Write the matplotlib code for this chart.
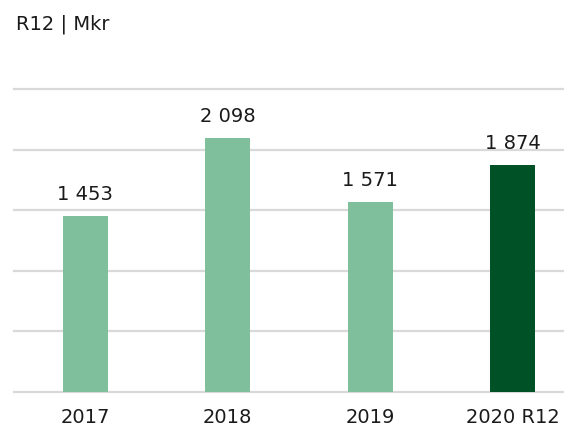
import matplotlib
matplotlib.use("Agg")
import matplotlib.pyplot as plt

categories = ["2017", "2018", "2019", "2020 R12"]
values = [1453, 2098, 1571, 1874]
labels = ["1 453", "2 098", "1 571", "1 874"]
colors = ["#80BF9B", "#80BF9B", "#80BF9B", "#005226"]
grid_vals = [0, 500, 1000, 1500, 2000, 2500]

plt.rcParams['font.family'] = ['DejaVu Sans']

fig = plt.figure(figsize=(5.64, 4.27), dpi=100)
W, H = 564, 427
ax = fig.add_axes([14 / W, (H - 393) / H, 550 / W, 303 / H])

x = list(range(len(categories)))
ax.set_xlim(-0.5, 3.36)
ax.set_ylim(0, 2500)
for g in grid_vals:
    ax.axhline(g, color="#D9D9D9", lw=1.6, clip_on=False, zorder=0)

ax.bar(x, values, width=0.315, color=colors, zorder=2)
for xi, v, lab in zip(x, values, labels):
    ax.annotate(lab, (xi, v), xytext=(0, 12), textcoords="offset points",
                ha="center", va="baseline", fontsize=14, color="#1a1a1a")

ax.set_xticks(x)
ax.set_xticklabels(categories, fontsize=14, color="#1a1a1a")
ax.tick_params(axis="x", length=0, pad=10.5)
ax.set_yticks([])
for s in ax.spines.values():
    s.set_visible(False)

fig.text(16 / W, 1 - 29 / H, "R12 | Mkr", fontsize=14, color="#1a1a1a",
         ha="left", va="baseline")

fig.savefig("out.png", dpi=100)
